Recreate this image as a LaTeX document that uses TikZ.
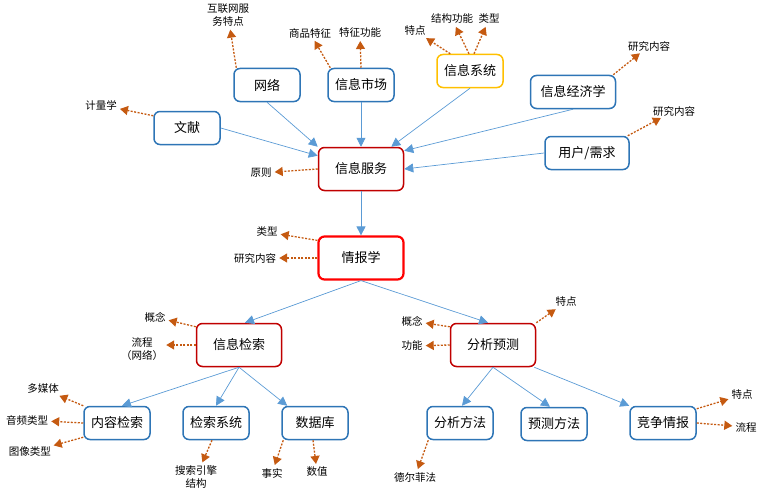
\documentclass[tikz,border=0pt]{standalone}
\usepackage{fontspec}
\setmainfont{Noto Sans CJK SC}
\usepackage{tikz}
\usetikzlibrary{arrows.meta}
\usepackage{xcolor}
\definecolor{boxblue}{RGB}{46,117,182}
\definecolor{darkred}{RGB}{192,0,0}
\definecolor{brightred}{RGB}{255,0,0}
\definecolor{gold}{RGB}{255,192,0}
\definecolor{linkblue}{RGB}{91,155,213}
\definecolor{notebrown}{RGB}{197,90,17}

\begin{document}
\begin{tikzpicture}[x=1pt,y=-1pt,
  bluebox/.style={draw=boxblue,line width=1.5pt,rounded corners=6pt,fill=white,minimum width=66pt,minimum height=33pt,inner sep=2pt,font=\fontsize{13}{13}\selectfont},
  redbox/.style={bluebox,draw=darkred,minimum width=85pt,minimum height=43pt},
  note/.style={inner sep=1pt,align=center,font=\fontsize{10.5}{13.5}\selectfont},
  link/.style={-{Triangle[length=9pt,width=9pt]},linkblue,line width=0.7pt},
  hint/.style={-{Triangle[length=8pt,width=9pt]},notebrown,line width=1.3pt,dash pattern=on 2pt off 1.5pt,shorten >=2pt}]
\useasboundingbox (0,0) rectangle (763,495);
% boxes
\node[bluebox] (net) at (267,85){网络};
\node[bluebox] (mkt) at (361,85){信息市场};
\node[bluebox,draw=gold] (sys) at (470,71){信息系统};
\node[bluebox,minimum width=85pt] (econ) at (573,92){信息经济学};
\node[bluebox] (lit) at (187,128){文献};
\node[bluebox,minimum width=84pt] (user) at (587,153){用户/需求};
\node[redbox] (serv) at (361,169){信息服务};
\node[redbox,draw=brightred,line width=2.2pt] (intel) at (361,258){情报学};
\node[redbox] (ret) at (239,345){信息检索};
\node[redbox] (pred) at (493,345){分析预测};
\node[bluebox] (cont) at (117,423){内容检索};
\node[bluebox] (sysr) at (216,423){检索系统};
\node[bluebox] (db) at (315,423){数据库};
\node[bluebox] (ana) at (460,423){分析方法};
\node[bluebox] (fore) at (554,424){预测方法};
\node[bluebox] (comp) at (663,423){竞争情报};
% notes
\node[note] (netfeat) at (228,15){互联网服\\务特点};
\node[note] (goods) at (310,33){商品特征};
\node[note] (func) at (360,33){特征功能};
\node[note] (sysfeat) at (415,31){特点};
\node[note] (struct) at (452,19){结构功能};
\node[note] (systype) at (489,19){类型};
\node[note] (econres) at (649,46){研究内容};
\node[note] (userres) at (674,111){研究内容};
\node[note] (metric) at (101,105){计量学};
\node[note] (rule) at (261,173){原则};
\node[note] (inteltype) at (267,232){类型};
\node[note] (intelres) at (255,258){研究内容};
\node[note] (retcon) at (155,317){概念};
\node[note] (retflow) at (142,349){流程\\（网络）};
\node[note] (predcon) at (412,321){概念};
\node[note] (predfunc) at (412,346){功能};
\node[note] (predfeat) at (566,302){特点};
\node[note] (multi) at (43,389){多媒体};
\node[note] (audio) at (27,420){音频类型};
\node[note] (image) at (30,452){图像类型};
\node[note] (engine) at (196,477){搜索引擎\\结构};
\node[note] (fact) at (272,473){事实};
\node[note] (value) at (317,472){数值};
\node[note] (delphi) at (415,477){德尔菲法};
\node[note] (compfeat) at (742,395){特点};
\node[note] (compflow) at (746,427){流程};
% blue links
\draw[link] (net.south) -- (serv.north west);
\draw[link] (lit.east) -- ([yshift=-9pt]serv.north west);
\draw[link] (mkt.south) -- (serv.north);
\draw[link] (sys.south) -- ([xshift=-13pt]serv.north east);
\draw[link] (econ.south) -- ([yshift=-4pt]serv.north east);
\draw[link] (user.west) -- (serv.east);
\draw[link] (serv.south) -- (intel.north);
\draw[link] (intel.south) -- ([xshift=6pt]ret.north);
\draw[link] (intel.south) -- ([xshift=-5pt]pred.north);
\draw[link] (ret.south) -- ([xshift=5pt]cont.north);
\draw[link] (ret.south) -- (sysr.north);
\draw[link] (ret.south) -- ([xshift=6pt]db.north west);
\draw[link] (pred.south) -- ([xshift=2pt]ana.north);
\draw[link] (pred.south) -- ([xshift=-4pt]fore.north);
\draw[link] ([xshift=-2pt]pred.south east) -- (comp.north west);
% dashed notes
\draw[hint] ([xshift=3pt]net.north west) -- (netfeat);
\draw[hint] ([xshift=3pt]mkt.north west) -- (goods);
\draw[hint] (mkt.north) -- (func);
\draw[hint] ([xshift=14pt]sys.north west) -- (sysfeat);
\draw[hint] ([xshift=-1pt]sys.north) -- (struct);
\draw[hint] ([xshift=4pt]sys.north) -- (systype);
\draw[hint] ([xshift=-3pt]econ.north east) -- (econres);
\draw[hint] ([xshift=-2pt]user.north east) -- (userres);
\draw[hint] ([yshift=-5pt]lit.north west) -- (metric);
\draw[hint] (serv.west) -- (rule);
\draw[hint] ([yshift=-5pt]intel.north west) -- (inteltype);
\draw[hint] (intel.west) -- (intelres);
\draw[hint] ([yshift=-4pt]ret.north west) -- (retcon);
\draw[hint] (ret.west) -- (ret.west -| retflow.east);
\draw[hint] ([yshift=-4pt]pred.north west) -- (predcon);
\draw[hint] (pred.west) -- (predfunc);
\draw[hint] (pred.north east) -- (predfeat);
\draw[hint] (cont.north west) -- (multi);
\draw[hint] (cont.west) -- (audio);
\draw[hint] ([yshift=3pt]cont.south west) -- (image);
\draw[hint] ([xshift=-4pt]sysr.south) -- (engine);
\draw[hint] ([xshift=2pt]db.south west) -- (fact);
\draw[hint] ([xshift=-2pt]db.south) -- (value);
\draw[hint] ([xshift=2pt]ana.south west) -- (delphi);
\draw[hint] ([yshift=-3pt]comp.north east) -- (compfeat);
\draw[hint] (comp.east) -- (compflow);
\end{tikzpicture}
\end{document}
